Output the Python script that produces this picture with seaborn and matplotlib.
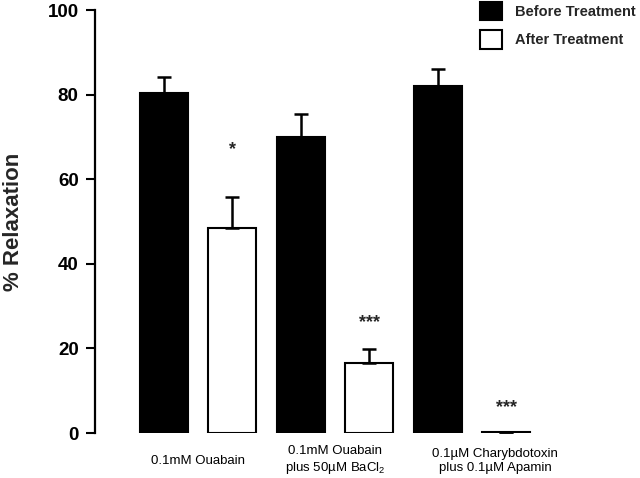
import numpy as np
import pandas as pd
import matplotlib
matplotlib.use('Agg')
import matplotlib.pyplot as plt
import seaborn as sns

# data (mean % relaxation, SEM)
groups = ['0.1mM Ouabain',
          '0.1mM Ouabain\nplus 50\u00b5M BaCl$_2$',
          '0.1\u00b5M Charybdotoxin\nplus 0.1\u00b5M Apamin']
before_mean = [80.3, 70.0, 82.1]
before_sem = [3.9, 5.5, 3.9]
after_mean = [48.5, 16.5, 0.3]
after_sem = [7.2, 3.3, 0.0]
stars = ['*', '***', '***']
star_y = [67, 26, 6]

sns.set_theme(style='white')
plt.rcParams['font.family'] = ['Liberation Sans', 'DejaVu Sans']
plt.rcParams['mathtext.fontset'] = 'custom'
plt.rcParams['mathtext.rm'] = 'Liberation Sans'

df = pd.DataFrame({
    'group': groups * 2,
    'value': before_mean + after_mean,
    'cond': ['Before Treatment'] * 3 + ['After Treatment'] * 3,
})

fig = plt.figure(figsize=(6.4, 4.78), dpi=100)
ax = fig.add_axes([0.148, 0.094, 0.75, 0.885])

sns.barplot(data=df, x='group', y='value', hue='cond', ax=ax,
            palette=['black', 'white'], edgecolor='black', linewidth=1.5,
            width=1.0, gap=0.3, errorbar=None, saturation=1)

# upward-only error bars
sems = [before_sem, after_sem]
for cont, sem in zip(ax.containers, sems):
    xs = [p.get_x() + p.get_width() / 2 for p in cont.patches]
    ys = [p.get_height() for p in cont.patches]
    ax.errorbar(xs, ys, yerr=[np.zeros(len(sem)), sem], fmt='none',
                ecolor='black', elinewidth=1.8, capsize=5, capthick=1.8, zorder=1)

# significance marks above the "after" bars
for p, s, y in zip(ax.containers[1].patches, stars, star_y):
    ax.text(p.get_x() + p.get_width() / 2, y, s, ha='center', va='center',
            fontsize=13, fontweight='bold')

ax.set_xlim(-0.754, 2.75)
ax.set_ylim(0, 100)
ax.set_yticks([0, 20, 40, 60, 80, 100])
ax.set_xlabel('')
ax.set_ylabel('% Relaxation', fontsize=16, fontweight='bold')
ax.yaxis.set_label_coords(-0.148, 0.5)

for s in ['top', 'right', 'bottom']:
    ax.spines[s].set_visible(False)
ax.spines['left'].set_linewidth(1.6)
ax.spines['left'].set_color('black')

ax.tick_params(axis='y', direction='out', length=6.5, width=1.5, colors='black',
               labelsize=13.5, left=True, pad=5)
for t in ax.get_yticklabels():
    t.set_fontweight('bold')
ax.tick_params(axis='x', length=0, labelsize=9.5, pad=20, colors='black')
ax.set_xticks([0, 1, 2.17])
ax.set_xticklabels(groups)
for t in ax.get_xticklabels():
    t.set_va('center')
    t.set_linespacing(1.25)

leg = ax.legend(loc='upper left', bbox_to_anchor=(0.75, 0.996), bbox_transform=fig.transFigure,
                frameon=False, handlelength=1.5, handleheight=1.57, labelspacing=0.68,
                handletextpad=0.9, borderaxespad=0, borderpad=0,
                prop={'weight': 'bold', 'size': 10.5})

fig.savefig('out.png', dpi=100)
